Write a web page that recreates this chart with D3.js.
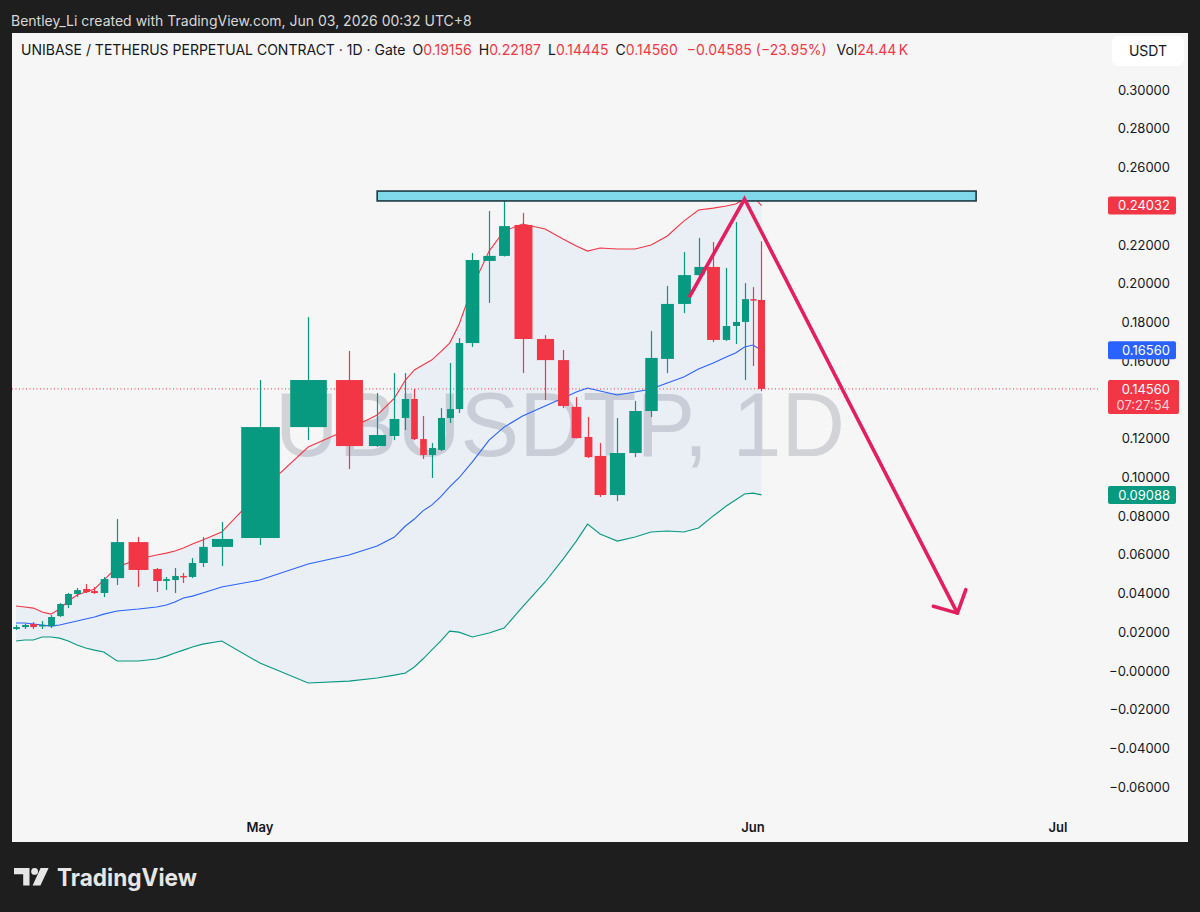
<!DOCTYPE html>
<html><head><meta charset="utf-8">
<script src="https://cdn.jsdelivr.net/npm/d3@7/dist/d3.min.js"></script>
<style>
html,body{margin:0;padding:0;background:#1e1e1e;}
svg{display:block;}
</style></head><body>
<svg id="chart" width="1200" height="912"></svg>
<script>
// ---------------- DATA ----------------
const firstDate = "2026-04-11";
const opens  = [0.0216,0.0226,0.0242,0.0231,0.0231,0.0283,0.0340,0.0397,0.0423,0.0412,0.0402,0.0479,0.0665,0.0526,0.0464,0.0469,0.0490,0.0485,0.0557,0.0640,0.0686,0.1259,0.1502,0.1161,0.1213,0.1306,0.1404,0.1197,0.1115,0.1141,0.1306,0.1352,0.1693,0.2117,0.2143,0.2303,0.1714,0.1605,0.1363,0.1208,0.1110,0.0908,0.1125,0.1342,0.1611,0.1895,0.2044,0.2086,0.1709,0.1781,0.1802,0.1920,0.19156];
const highs  = [0.0237,0.0242,0.0252,0.0257,0.0288,0.0350,0.0402,0.0428,0.0448,0.0433,0.0485,0.0784,0.0691,0.0531,0.0485,0.0531,0.0505,0.0583,0.0691,0.0769,0.1502,0.1827,0.1652,0.1435,0.1538,0.1538,0.1456,0.1316,0.1177,0.1357,0.1590,0.1719,0.2158,0.2375,0.2468,0.2365,0.1734,0.1657,0.1414,0.1311,0.1177,0.1306,0.1394,0.1755,0.1988,0.2163,0.2236,0.2215,0.2081,0.2318,0.2003,0.1982,0.22187];
const lows   = [0.0211,0.0216,0.0216,0.0216,0.0221,0.0278,0.0324,0.0381,0.0402,0.0397,0.0381,0.0443,0.0433,0.0407,0.0417,0.0402,0.0454,0.0479,0.0536,0.0541,0.0650,0.1192,0.1042,0.1156,0.1192,0.1244,0.1192,0.1094,0.0996,0.1135,0.1280,0.1332,0.1673,0.1900,0.2140,0.1538,0.1399,0.1357,0.1200,0.1099,0.0898,0.0877,0.1104,0.1311,0.1538,0.1848,0.2034,0.1698,0.1704,0.1688,0.1502,0.1574,0.14445];
const closes = [0.0226,0.0237,0.0226,0.0237,0.0278,0.0345,0.0397,0.0417,0.0407,0.0402,0.0474,0.0665,0.0521,0.0464,0.0474,0.0490,0.0485,0.0557,0.0640,0.0681,0.1259,0.1502,0.1161,0.1218,0.1301,0.1404,0.1197,0.1115,0.1151,0.1306,0.1352,0.1693,0.2122,0.2143,0.2297,0.1714,0.1605,0.1368,0.1202,0.1104,0.0908,0.1125,0.1342,0.1616,0.1895,0.2044,0.2086,0.1709,0.1781,0.1802,0.1920,0.1916,0.14560];
// volume per candle (K) - drives the bar width of this chart
const volumesK = [23.4,23.9,23.2,24.1,23.8,23.3,24.0,23.6,23.5,23.9,26.6,46.2,69.2,29.9,23.1,23.1,23.1,25.8,29.9,73.3,134.4,127.6,93.7,59.7,33.9,25.8,23.1,23.1,24.4,24.4,24.4,25.8,47.5,43.4,38.0,62.5,59.7,38.0,33.9,27.2,40.7,53.0,43.4,43.4,44.8,44.8,35.3,44.8,25.8,24.4,24.4,21.7,24.44];
const bbUpper = [0.0335,0.0330,0.0324,0.0304,0.0293,0.0319,0.0361,0.0392,0.0407,0.0423,0.0469,0.0536,0.0578,0.0598,0.0608,0.0619,0.0634,0.0655,0.0676,0.0717,0.0924,0.1156,0.1249,0.1321,0.1409,0.1502,0.1554,0.1580,0.1605,0.1647,0.1693,0.1786,0.1982,0.2168,0.2272,0.2308,0.2282,0.2230,0.2194,0.2168,0.2184,0.2179,0.2179,0.2199,0.2246,0.2323,0.2380,0.2390,0.2401,0.2411,0.2437,0.2452,0.24032];
const bbBasis = [0.0247,0.0247,0.0242,0.0237,0.0231,0.0237,0.0247,0.0257,0.0268,0.0278,0.0293,0.0309,0.0319,0.0330,0.0340,0.0355,0.0376,0.0386,0.0402,0.0433,0.0469,0.0552,0.0598,0.0645,0.0691,0.0748,0.0784,0.0826,0.0856,0.0898,0.0950,0.0996,0.1079,0.1192,0.1259,0.1316,0.1368,0.1409,0.1440,0.1461,0.1445,0.1425,0.1440,0.1456,0.1487,0.1518,0.1559,0.1590,0.1621,0.1642,0.1673,0.1683,0.16560];
const bbLower = [0.0154,0.0159,0.0159,0.0175,0.0175,0.0169,0.0154,0.0133,0.0118,0.0107,0.0097,0.0051,0.0051,0.0061,0.0076,0.0092,0.0107,0.0123,0.0138,0.0154,0.0040,-0.0063,-0.0053,-0.0037,-0.0022,-0.0011,0.0020,0.0061,0.0107,0.0154,0.0205,0.0200,0.0175,0.0195,0.0221,0.0330,0.0459,0.0577,0.0670,0.0758,0.0707,0.0670,0.0691,0.0717,0.0722,0.0717,0.0738,0.0800,0.0851,0.0882,0.0913,0.0918,0.09088];

const yTickValues = [0.30,0.28,0.26,0.24,0.22,0.20,0.18,0.16,0.14,0.12,0.10,0.08,0.06,0.04,0.02,0.00,-0.02,-0.04,-0.06];
const yTickLabels = ["0.30000","0.28000","0.26000","0.24000","0.22000","0.20000","0.18000","0.16000","0.14000","0.12000","0.10000","0.08000","0.06000","0.04000","0.02000","\u22120.00000","\u22120.02000","\u22120.04000","\u22120.06000"];
const monthLabels = ["May","Jun","Jul"];
const monthDates  = ["2026-05-01","2026-06-01","2026-07-01"];

const creditText = "Bentley_Li created with TradingView.com, Jun 03, 2026 00:32 UTC+8";
const symbolTitle = "UNIBASE / TETHERUS PERPETUAL CONTRACT \u00b7 1D \u00b7 Gate";
const lastVolume = "24.44\u2009K";
const changeAbs = "\u22120.04585";
const changePct = "(\u221223.95%)";
const countdown = "07:27:54";
const watermark = "UBUSDTP, 1D";

// drawings (time, price)
const zoneDates = ["2026-05-04","2026-06-23"];
const zonePrices = [0.2478, 0.2427];
const arrowDates = ["2026-05-26T10:00","2026-05-31T00:00","2026-06-21T04:00"];
const arrowPrices = [0.1936, 0.2437, 0.0298];

// ---------------- LAYOUT ----------------
const W = 1200, H = 912;
const plotLeft = 12, plotRight = 1100, plotTop = 33, plotBottom = 812;
const barsStartX = 11.7, barsEndX = 766;
const futureDayPx = 10.22;
const axisTextX = 1170;
const UI = "Inter, 'Noto Sans', Roboto, 'Liberation Sans', sans-serif";
const GREEN = "#089981", RED = "#f23645", BLUE = "#2962ff";

const svg = d3.select("#chart");
svg.append("rect").attr("width", W).attr("height", H).attr("fill", "#1e1e1e");

svg.append("text").attr("x", 11).attr("y", 26).text(creditText)
  .attr("fill", "#d9d9d9").attr("font-family", UI).attr("font-size", 14);

svg.append("rect").attr("x", 12).attr("y", 33).attr("width", 1176).attr("height", 809).attr("fill", "#f6f6f6");

// scales
const dayMs = 86400000;
const t0 = new Date(firstDate + "T00:00:00Z").getTime();
const idxOf = s => (new Date(s.length > 10 ? s + ":00Z" : s + "T00:00:00Z").getTime() - t0) / dayMs;

const cum = [];
volumesK.reduce((acc, v, i) => { cum[i] = acc; return acc + v; }, 0);
const totalVol = d3.sum(volumesK);
const xVol = d3.scaleLinear().domain([0, totalVol]).range([barsStartX, barsEndX]);
const centers = volumesK.map((v, i) => xVol(cum[i] + v / 2));
const slotPx = volumesK.map(v => xVol(v) - xVol(0));
const n = volumesK.length;
const futureIdx = 81;
const xIdx = d3.scaleLinear()
  .domain([...d3.range(n), futureIdx])
  .range([...centers, centers[n - 1] + (futureIdx - (n - 1)) * futureDayPx]);
const y = d3.scaleLinear().domain([-0.06, 0.30]).range([787, 90]);

const defs = svg.append("defs");
defs.append("clipPath").attr("id", "plotclip").append("rect")
  .attr("x", plotLeft).attr("y", plotTop).attr("width", plotRight - plotLeft).attr("height", plotBottom - plotTop);

const plot = svg.append("g").attr("clip-path", "url(#plotclip)");

// watermark
plot.append("text").attr("x", 560).attr("y", 456).attr("text-anchor", "middle")
  .attr("font-family", "'Liberation Sans', Arial, sans-serif").attr("font-size", 90)
  .attr("textLength", 570).attr("lengthAdjust", "spacingAndGlyphs")
  .attr("fill", "rgba(70,75,90,0.20)").text(watermark);

const idx = d3.range(n);
// band fill
plot.append("path").datum(idx)
  .attr("d", d3.area().x(i => xIdx(i)).y0(i => y(bbLower[i])).y1(i => y(bbUpper[i])))
  .attr("fill", "rgba(33,110,243,0.055)");

// last price dotted line
plot.append("line").attr("x1", plotLeft).attr("x2", 1108)
  .attr("y1", y(closes[n - 1])).attr("y2", y(closes[n - 1]))
  .attr("stroke", RED).attr("stroke-width", 1).attr("stroke-dasharray", "1,2.5");

// band lines
const lineFor = arr => d3.line().x(i => xIdx(i)).y(i => y(arr[i]));
[[bbUpper, RED], [bbBasis, BLUE], [bbLower, GREEN]].forEach(([arr, c]) => {
  plot.append("path").datum(idx).attr("d", lineFor(arr))
    .attr("fill", "none").attr("stroke", c).attr("stroke-width", 1.1);
});

// candles
const candles = plot.append("g");
idx.forEach(i => {
  const up = closes[i] >= opens[i];
  const col = up ? GREEN : RED;
  const cx = Math.round(centers[i]) + 0.5;
  const bw = Math.max(3, slotPx[i] * 0.78);
  candles.append("line").attr("x1", cx).attr("x2", cx)
    .attr("y1", y(highs[i])).attr("y2", y(lows[i])).attr("stroke", col).attr("stroke-width", 1.2);
  const top = y(Math.max(opens[i], closes[i]));
  const bot = y(Math.min(opens[i], closes[i]));
  candles.append("rect").attr("x", cx - bw / 2).attr("y", top)
    .attr("width", bw).attr("height", Math.max(1.5, bot - top)).attr("fill", col);
});

// drawings: resistance zone
const draw = svg.append("g");
draw.append("rect")
  .attr("x", xIdx(idxOf(zoneDates[0]))).attr("y", y(zonePrices[0]))
  .attr("width", xIdx(idxOf(zoneDates[1])) - xIdx(idxOf(zoneDates[0])))
  .attr("height", y(zonePrices[1]) - y(zonePrices[0]))
  .attr("fill", "#80d9ea").attr("stroke", "#1d3b40").attr("stroke-width", 1.6);

// arrow
const pts = arrowDates.map((d, k) => [xIdx(idxOf(d)), y(arrowPrices[k])]);
const PINK = "#e3205f";
draw.append("path").attr("d", d3.line()(pts)).attr("fill", "none")
  .attr("stroke", PINK).attr("stroke-width", 3.6).attr("stroke-linecap", "round").attr("stroke-linejoin", "miter");
{
  const [p1, p2] = [pts[pts.length - 2], pts[pts.length - 1]];
  const ang = Math.atan2(p1[1] - p2[1], p1[0] - p2[0]);
  const L = 25, a = 47 * Math.PI / 180;
  const b1 = [p2[0] + L * Math.cos(ang - a), p2[1] + L * Math.sin(ang - a)];
  const b2 = [p2[0] + L * Math.cos(ang + a), p2[1] + L * Math.sin(ang + a)];
  draw.append("path").attr("d", d3.line()([b1, p2, b2])).attr("fill", "none")
    .attr("stroke", PINK).attr("stroke-width", 3.6).attr("stroke-linecap", "round").attr("stroke-linejoin", "round");
}

// header legend
const hdr = svg.append("text").attr("x", 21).attr("y", 55).attr("font-family", UI).attr("font-size", 14).attr("fill", "#131722");
hdr.append("tspan").text(symbolTitle);
const fmt = d3.format(".5f");
const seg = (lab, val, dx) => {
  hdr.append("tspan").attr("dx", dx).attr("fill", "#131722").text(lab);
  hdr.append("tspan").attr("fill", RED).text(val);
};
seg("O", fmt(opens[n - 1]), 7);
seg("H", fmt(highs[n - 1]), 7);
seg("L", fmt(lows[n - 1]), 7);
seg("C", fmt(closes[n - 1]), 7);
hdr.append("tspan").attr("dx", 9).attr("fill", RED).text(changeAbs + " " + changePct);
seg("Vol", lastVolume, 10);

// USDT box
svg.append("rect").attr("x", 1112).attr("y", 36).attr("width", 72).attr("height", 30).attr("rx", 6).attr("fill", "#ffffff");
svg.append("text").attr("x", 1148).attr("y", 51).attr("dy", "0.36em").attr("text-anchor", "middle")
  .attr("font-family", UI).attr("font-size", 14).attr("fill", "#131722").text("USDT");

// price label definitions (value, colour, lines, box width)
const priceLabels = [
  [bbUpper[n - 1], RED, [fmt(bbUpper[n - 1])], 68],
  [bbBasis[n - 1], BLUE, [fmt(bbBasis[n - 1])], 68],
  [closes[n - 1], RED, [fmt(closes[n - 1]), countdown], 71],
  [bbLower[n - 1], GREEN, [fmt(bbLower[n - 1])], 68]
];
const boxH = lines => lines.length === 1 ? 18 : 34;

// y axis labels (ticks fully hidden behind a price label are not drawn, as in TradingView)
const yAxis = svg.append("g");
yTickValues.forEach((v, k) => {
  const yt = y(v);
  const hidden = priceLabels.some(([pv, , lines]) => {
    const top = y(pv) - 9, bot = top + boxH(lines);
    return yt - 6 >= top - 2 && yt + 6 <= bot + 2;
  });
  if (hidden) return;
  yAxis.append("text").attr("x", axisTextX).attr("y", yt).attr("dy", "0.36em")
    .attr("text-anchor", "end").attr("font-family", UI).attr("font-size", 13)
    .attr("fill", "#131722").text(yTickLabels[k]);
});

// price labels
priceLabels.forEach(([v, color, lines, w]) => {
  const yc = y(v);
  yAxis.append("rect").attr("x", 1108).attr("y", yc - 9).attr("width", w).attr("height", boxH(lines)).attr("rx", 2).attr("fill", color);
  lines.forEach((t, k) => {
    yAxis.append("text").attr("x", axisTextX).attr("y", yc + k * 16).attr("dy", "0.36em")
      .attr("text-anchor", "end").attr("font-family", UI).attr("font-size", 13)
      .attr("fill", k === 0 ? "#ffffff" : "rgba(255,255,255,0.8)").text(t);
  });
});

// x axis labels
monthLabels.forEach((m, k) => {
  svg.append("text").attr("x", xIdx(idxOf(monthDates[k]))).attr("y", 827).attr("dy", "0.36em")
    .attr("text-anchor", "middle").attr("font-family", UI).attr("font-size", 13).attr("font-weight", 600)
    .attr("fill", "#131722").text(m);
});

// TradingView logo
const logo = svg.append("g").attr("fill", "#e6e6e6");
logo.append("path").attr("d", "M14,868 H29.5 V885.5 H23.2 V874.2 H14 Z");
logo.append("circle").attr("cx", 34.6).attr("cy", 871.4).attr("r", 3.4);
logo.append("path").attr("d", "M40.6,868 H48.6 L40.4,885.5 H32.6 Z");
logo.append("text").attr("x", 57).attr("y", 886).attr("font-family", UI).attr("font-size", 24)
  .attr("font-weight", 700).attr("textLength", 140).attr("lengthAdjust", "spacingAndGlyphs").text("TradingView");
</script>
</body></html>
